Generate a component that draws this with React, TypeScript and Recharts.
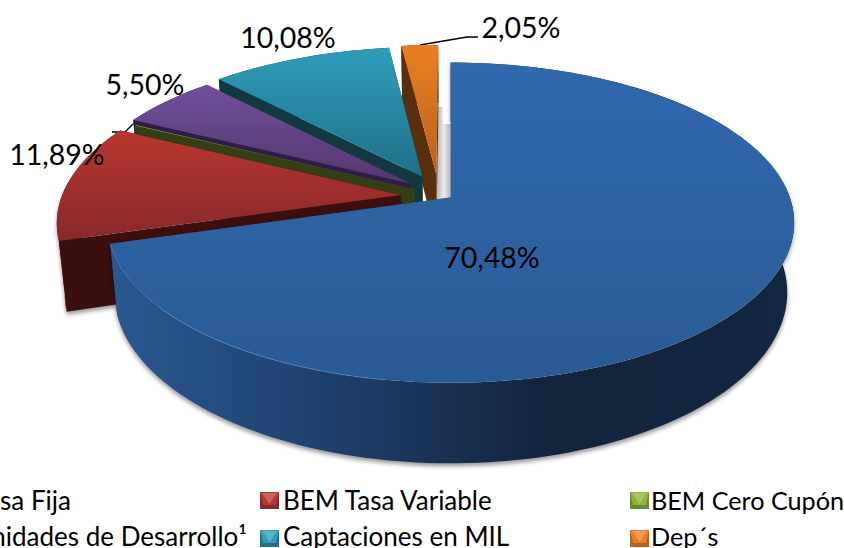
import { PieChart, Pie, Legend } from "recharts"

const categories = ["BEM Tasa Fija", "BEM Tasa Variable", "BEM Cero Cupón", "Unidades de Desarrollo¹", "Captaciones en MIL", "Dep´s"]
const shares = [70.48, 11.89, 0.05, 5.5, 10.08, 2.05]
const shareLabels = ["70,48%", "11,89%", "", "5,50%", "10,08%", "2,05%"]

// top face gradient, outer wall, radial wall, legend colour
const topLight = ["#3169ae", "#b8372f", "#8fb23e", "#70509a", "#2f9dba", "#ea7f23"]
const topDark = ["#2a5a94", "#88272a", "#6b8a2c", "#53376f", "#1f7088", "#b8621b"]
const wallColor = ["#1d3e68", "#3a0f0d", "#333f15", "#2f1c48", "#12393f", "#5a2f0c"]

// how far each slice is pulled out, in units of the radius
const explode = [[0.002, -0.004], [-0.146, 0.013], [-0.105, 0.05], [-0.118, 0.087], [-0.083, 0.132], [-0.041, 0.149]]
const labelSpots = [[492, 257], [57, 154], [0, 0], [145, 84], [288, 37], [521, 27]]

// draw order is far slices first, the pie runs counter clockwise from 12 o'clock
const order = [5, 4, 3, 2, 1, 0]
const rows = order.map((i) => ({ name: categories[i], value: shares[i], idx: i }))

const CX = 450
const CY = 197
const RX = 339
const RY = 156
const PERSP = 0.156
const DEPTH = 68

function project(u: number, v: number, low = false) {
  const w = 1 + PERSP * v
  const x = (RX * u) / w
  const y = (RY * v) / w
  if (!low) return [CX + x, CY - y]
  return [CX + x * 0.98, CY - y + DEPTH / w]
}

function arcPoints(a0: number, a1: number, off: number[], low = false) {
  const pts: number[][] = []
  const n = Math.max(2, Math.ceil(Math.abs(a1 - a0) / 1.5))
  for (let i = 0; i <= n; i++) {
    const t = ((a0 + ((a1 - a0) * i) / n) * Math.PI) / 180
    pts.push(project(Math.sin(t) + off[0], Math.cos(t) + off[1], low))
  }
  return pts
}

const toLine = (pts: number[][]) => "M" + pts.map((p) => p[0].toFixed(1) + " " + p[1].toFixed(1)).join("L")
const toPath = (pts: number[][]) => toLine(pts) + "Z"

// turns the sector the library hands over into a tilted slice with walls
function Slice(props: any) {
  const { startAngle, endAngle, payload } = props
  const idx = payload.idx
  const off = explode[idx]
  const a0 = 90 - Math.max(startAngle, endAngle)
  const a1 = 90 - Math.min(startAngle, endAngle)
  const top = arcPoints(a0, a1, off)
  const low = arcPoints(a0, a1, off, true)
  const apex = project(off[0], off[1])
  const apexLow = project(off[0], off[1], true)
  const face = [apex, ...top]
  const outer = [...top, ...low.slice().reverse()]
  const wallA = [apex, top[0], low[0], apexLow]
  const wallB = [apex, top[top.length - 1], low[low.length - 1], apexLow]
  const isBlue = idx === 0
  const hasShadow = idx === 0 || idx === 1
  return (
    <g>
      <defs>
        <linearGradient id={"face" + idx} x1="0" y1="0" x2="0" y2="1">
          <stop offset="0" stopColor={topLight[idx]} />
          <stop offset="1" stopColor={topDark[idx]} />
        </linearGradient>
        <linearGradient id="blueWall" x1="0" y1="0" x2="1" y2="0">
          <stop offset="0" stopColor="#2a5890" />
          <stop offset="0.19" stopColor="#234a7c" />
          <stop offset="0.41" stopColor="#1b3860" />
          <stop offset="0.63" stopColor="#12243c" />
          <stop offset="1" stopColor="#12263f" />
        </linearGradient>
        <linearGradient id="shadeA" x1="0" y1="0" x2="1" y2="0">
          <stop offset="0" stopColor="#bdbdbd" />
          <stop offset="1" stopColor="#e6e6e6" />
        </linearGradient>
        <linearGradient id="shadeB" x1="0" y1="0" x2="1" y2="0">
          <stop offset="0" stopColor="#f2f2f2" />
          <stop offset="1" stopColor="#b4b4b4" />
        </linearGradient>
      </defs>
      {idx === 5 && (
        <g>
          <rect x={438} y={107} width={5} height={92} fill="url(#shadeA)" />
          <rect x={443} y={124} width={8} height={75} fill="url(#shadeB)" />
        </g>
      )}
      <g style={hasShadow ? { filter: "drop-shadow(0px 3px 2px rgba(0,0,0,0.4))" } : undefined}>
        <path d={toPath(wallA)} fill={wallColor[idx]} />
        <path d={toPath(wallB)} fill={wallColor[idx]} />
        <path d={toPath(outer)} fill={isBlue ? "url(#blueWall)" : wallColor[idx]} />
      </g>
      <path d={toPath(face)} fill={"url(#face" + idx + ")"} />
      {isBlue && <path d={toLine(arcPoints(a1 - 64, a1, off))} fill="none" stroke="#4f86c6" strokeWidth={1} opacity={0.7} />}
    </g>
  )
}

function SliceLabel(props: any) {
  const idx = props.payload.idx
  if (!shareLabels[idx]) return null
  const [x, y] = labelSpots[idx]
  return (
    <text x={x} y={y} textAnchor="middle" dominantBaseline="central" fontFamily="Lato" fontSize={28.5} fill="#000">
      {shareLabels[idx]}
    </text>
  )
}

function Marker({ x, y, idx }: { x: number; y: number; idx: number }) {
  const w = 19
  const h = 17
  return (
    <g>
      <rect x={x} y={y} width={w} height={h} fill={topDark[idx]} />
      <path d={`M${x} ${y}L${x + w} ${y}L${x + w - 3} ${y + h - 4}L${x + 3} ${y + h - 4}Z`} fill={topLight[idx]} />
      <path d={`M${x + 2} ${y + 1}L${x + w - 2} ${y + 1}L${x + w / 2} ${y + h - 5}Z`} fill="#fff" opacity={0.22} />
    </g>
  )
}

const legendColumns = [
  { mark: -100, text: 71, anchor: "end", size: 26 },
  { mark: 260, text: 283, anchor: "start", size: 26 },
  { mark: 630, text: 651, anchor: "start", size: 25.2 },
]

function LegendBox() {
  return (
    <svg width={844} height={70} style={{ display: "block" }}>
      {categories.map((name, i) => {
        const col = legendColumns[i % 3]
        const y = i < 3 ? 15 : 51
        const colOneSecond = i === 3
        return (
          <g key={name}>
            <Marker x={col.mark} y={y - 8 + (i < 3 ? 0 : 2)} idx={i} />
            <text x={colOneSecond ? 247 : col.text} y={y} textAnchor={col.anchor as any} dominantBaseline="central" fontFamily="Lato" fontSize={col.size} fill="#000">
              {name}
            </text>
          </g>
        )
      })}
    </svg>
  )
}

export default function App() {
  return (
    <div style={{ position: "fixed", left: 0, top: 0, width: 844, height: 548, overflow: "hidden", background: "#fff" }}>
      <PieChart width={844} height={548}>
        <Pie
          data={rows}
          dataKey="value"
          nameKey="name"
          cx={CX}
          cy={CY}
          outerRadius={RX}
          startAngle={90}
          endAngle={450}
          stroke="none"
          shape={Slice}
          label={SliceLabel}
          labelLine={false}
          isAnimationActive={false}
        />
        <Legend content={LegendBox} wrapperStyle={{ left: 0, top: 485, width: 844, height: 70 }} />
        <polyline points="420,45 467,37 478,37" fill="none" stroke="#000" strokeWidth={1.3} />
        <polyline points="112,132 125,132 133,124" fill="none" stroke="#000" strokeWidth={1.3} />
      </PieChart>
    </div>
  )
}
